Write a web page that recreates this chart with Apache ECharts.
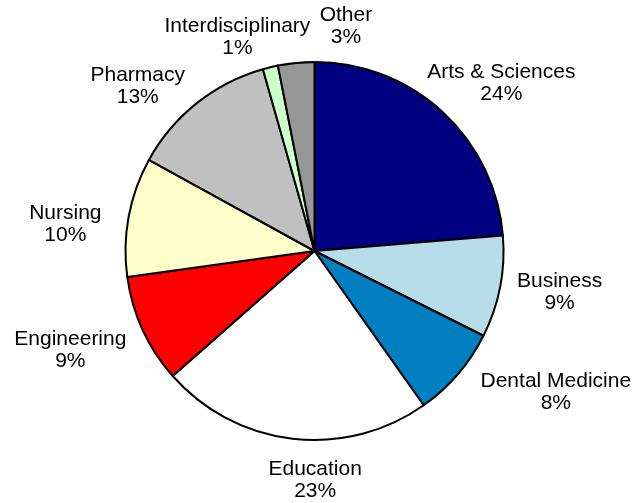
<!DOCTYPE html>
<html>
<head>
<meta charset="utf-8">
<script src="https://cdn.jsdelivr.net/npm/echarts@6/dist/echarts.min.js"></script>
<style>
    html, body { margin: 0; padding: 0; background: #fff; }
    #chart { width: 644px; height: 503px; }
</style>
</head>
<body>
<div id="chart"></div>
<script>
// 学院分布数据（按顺时针顺序，从 12 点开始）
const schools = ['Arts & Sciences', 'Business', 'Dental Medicine', 'Education', 'Engineering',
    'Nursing', 'Pharmacy', 'Interdisciplinary', 'Other'];
const shares = [23.7, 8.7, 7.8, 23.3, 9.3, 10.2, 12.6, 1.3, 3.1];
const sliceColors = ['#000080', '#B7DDE8', '#0080C0', '#FFFFFF', '#FF0000',
    '#FFFFCC', '#C0C0C0', '#CCFFCC', '#969696'];

// 布局参数
const CX = 314.5, CY = 251, R = 189, GAP = 17;
// 标签微调（模仿原图手动避让）
const labelNudge = [[-3, 0], [1, -2], [28, -7], [30, 3], [-6, 4], [-11, 15], [-19, 14], [-12, 8], [54, 2]];

const chart = echarts.init(document.getElementById('chart'));

const total = shares.reduce((a, b) => a + b, 0);

/**
 * 标签放在扇区中线外侧，文字居中
 */
function placeLabel(params) {
    const i = params.dataIndex;
    let start = 0;
    for (let k = 0; k < i; k++) start += shares[k];
    const mid = (start + shares[i] / 2) / total * Math.PI * 2;
    const ux = Math.sin(mid), uy = -Math.cos(mid);
    const w = params.labelRect.width, h = params.labelRect.height;
    return {
        x: CX + ux * (R + GAP) + ux * w / 2 + labelNudge[i][0],
        y: CY + uy * (R + GAP) + uy * h / 2 + labelNudge[i][1],
        align: 'center',
        verticalAlign: 'middle'
    };
}

const option = {
    animation: false,
    series: [
        {
            type: 'pie',
            center: [CX, CY],
            radius: R,
            startAngle: 90,
            clockwise: true,
            percentPrecision: 0,
            avoidLabelOverlap: false,
            itemStyle: {
                borderColor: '#000',
                borderWidth: 2
            },
            label: {
                show: true,
                position: 'outside',
                formatter: '{b}\n{d}%',
                color: '#000',
                fontFamily: 'Arial, "Liberation Sans", sans-serif',
                fontSize: 21,
                lineHeight: 22,
                align: 'center'
            },
            labelLine: { show: false },
            labelLayout: placeLabel,
            emphasis: { disabled: true },
            data: schools.map((name, i) => ({
                name: name,
                value: shares[i],
                itemStyle: { color: sliceColors[i] }
            }))
        }
    ]
};

chart.setOption(option);
</script>
</body>
</html>
